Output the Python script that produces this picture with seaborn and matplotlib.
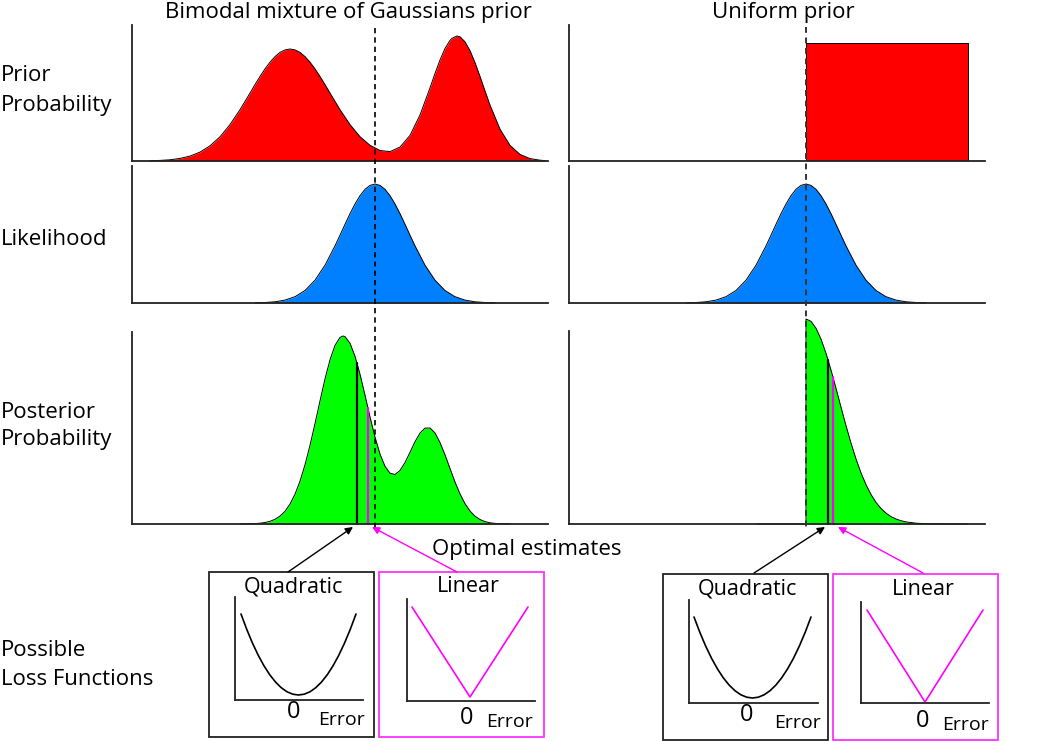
import matplotlib
matplotlib.use('Agg')
import matplotlib.pyplot as plt
from matplotlib.patches import Rectangle
import numpy as np
import seaborn as sns

sns.set_style('white')
plt.rcParams['font.family'] = ['Open Sans', 'DejaVu Sans']

# x = Pixelspalte im Original, y = Hoehe ueber der Grundlinie
prior_bimodal_x = [150, 160, 170, 180, 190, 200, 210, 220, 230, 240, 250, 255, 260, 265, 270, 275, 280, 285,
                   290, 295, 300, 305, 310, 315, 320, 325, 330, 340, 350, 360, 370, 380, 390, 400, 410, 420,
                   430, 435, 440, 445, 450, 452, 457, 460, 465, 470, 475, 480, 485, 490, 500, 510, 520, 530,
                   540, 545]
prior_bimodal_y = [0.2, 0.6, 1.2, 2.6, 4.9, 8.9, 15.2, 24.2, 36.4, 51.3, 67.9, 76.4, 84.5, 92.1, 98.8, 104.4, 108.6, 111.1,
                   112.0, 111.1, 108.6, 104.4, 98.8, 92.1, 84.5, 76.4, 67.9, 51.3, 36.4, 24.3, 15.7, 10.5, 9.4, 13.9, 25.6, 46.0,
                   73.1, 87.5, 101.0, 112.5, 120.6, 122.7, 125.0, 124.2, 119.2, 110.3, 98.4, 84.5, 70.0, 55.9, 31.8, 15.6, 6.6, 2.4,
                   0.8, 0.4]

prior_uniform_x = [806, 968]
prior_uniform_h = 118

lik_center_left = 375
lik_center_right = 806
lik_offsets = [-120, -110, -100, -90, -80, -70, -60, -50, -40, -35, -30, -25, -20, -15, -10, -5, 0,
               5, 10, 15, 20, 25, 30, 35, 40, 50, 60, 70, 80, 90, 100, 110, 120]
lik_heights = [0.2, 0.5, 1.2, 2.9, 6.3, 12.5, 22.8, 37.8, 57.1, 67.8, 78.7, 89.3, 99.0, 107.3, 113.7, 117.6, 119.0,
               117.6, 113.7, 107.3, 99.0, 89.3, 78.7, 67.8, 57.1, 37.8, 22.8, 12.5, 6.3, 2.9, 1.2, 0.5, 0.2]

post_left_x = [240, 250, 255, 260, 265, 270, 275, 280, 285, 290, 295, 300, 305, 310, 315, 320, 325, 330,
               335, 340, 343, 345, 350, 355, 360, 365, 370, 375, 380, 385, 390, 395, 400, 405, 410, 415,
               420, 425, 430, 435, 440, 445, 450, 455, 460, 465, 470, 475, 480, 485, 490, 495, 500, 510]
post_left_y = [0.05, 0.2, 0.4, 0.8, 1.5, 2.7, 4.7, 7.9, 12.7, 19.9, 29.8, 42.8, 59.2, 78.7, 100.4, 123.1, 145.1, 164.2,
               178.6, 186.6, 188.0, 187.4, 180.8, 167.7, 149.7, 128.8, 107.0, 86.9, 69.9, 57.7, 50.8, 49.5, 53.5, 61.4,
               71.7, 82.3, 90.9, 95.9, 96.0, 91.0, 81.5, 69.2, 55.5, 42.0, 30.1, 20.3, 13.0, 7.8, 4.5, 2.4, 1.2,
               0.6, 0.3, 0.1]

post_right_x = [757, 806, 806, 811, 816, 821, 826, 831, 836, 841, 846, 851, 856, 861, 866, 871, 876, 881,
                886, 891, 896, 901, 906, 916, 926, 946, 968]
post_right_y = [0, 0, 205, 202.7, 195.8, 184.9, 170.6, 153.9, 135.6, 116.8, 98.3, 80.9, 65.0, 51.1, 39.3, 29.5,
                21.6, 15.5, 10.9, 7.4, 5.0, 3.3, 2.1, 0.8, 0.3, 0.05, 0]

# Optimale Schaetzer: [quadratisch, linear]
est_left_x = [357, 368]
est_left_h = [161, 116]
est_right_x = [828, 833]
est_right_h = [164, 147]

# Verlustfunktionen
err_quad = [-1.0, -0.9, -0.8, -0.7, -0.6, -0.5, -0.4, -0.3, -0.2, -0.1, 0.0,
            0.1, 0.2, 0.3, 0.4, 0.5, 0.6, 0.7, 0.8, 0.9, 1.0]
loss_quad = [1.00, 0.81, 0.64, 0.49, 0.36, 0.25, 0.16, 0.09, 0.04, 0.01, 0.00,
             0.01, 0.04, 0.09, 0.16, 0.25, 0.36, 0.49, 0.64, 0.81, 1.00]
err_lin = [-1.0, 0.0, 1.0]
loss_lin = [1.0, 0.0, 1.0]

RED = '#ff0000'
BLUE = '#0080ff'
GREEN = '#00ff00'
MAG = '#ff00ff'
MAG_BOX = '#ff33ff'

W, H = 1050, 741
fig = plt.figure(figsize=(W / 100, H / 100), dpi=100)


def px_axes(x0, y0, x1, y1):
    ax = fig.add_axes([x0 / W, 1 - y1 / H, (x1 - x0) / W, (y1 - y0) / H])
    ax.patch.set_alpha(0)
    return ax


def panel(x0, y0, x1, y1):
    ax = px_axes(x0, y0, x1, y1)
    ax.set_xlim(x0, x1)
    ax.set_ylim(0, y1 - y0)
    sns.despine(ax=ax)
    ax.set_xticks([])
    ax.set_yticks([])
    for s in ['left', 'bottom']:
        ax.spines[s].set_linewidth(1.3)
        ax.spines[s].set_color('#222222')
    return ax


def density(ax, x, y, color):
    ax.fill_between(x, y, color=color, lw=0, clip_on=False)
    sns.lineplot(x=x, y=y, ax=ax, color='black', lw=0.7, estimator=None, sort=False, clip_on=False)


def estimates(ax, xs, hs):
    for x, h, c in zip(xs, hs, ['black', MAG]):
        ax.plot([x, x], [0, h], color=c, lw=1.6, clip_on=False)


# --- linke Spalte ---
ax = panel(132, 25, 548, 161)
density(ax, prior_bimodal_x, prior_bimodal_y, RED)

ax = panel(132, 166, 548, 303)
density(ax, [lik_center_left + o for o in lik_offsets], lik_heights, BLUE)

ax = panel(132, 332, 548, 524)
density(ax, post_left_x, post_left_y, GREEN)
estimates(ax, est_left_x, est_left_h)

# --- rechte Spalte ---
ax = panel(569, 25, 985, 161)
ax.fill_between(prior_uniform_x, [prior_uniform_h] * 2, color=RED, lw=0)
ux = [prior_uniform_x[0], prior_uniform_x[0], prior_uniform_x[1], prior_uniform_x[1]]
uy = [0, prior_uniform_h, prior_uniform_h, 0]
sns.lineplot(x=ux, y=uy, ax=ax, color='black', lw=0.7, estimator=None, sort=False)

ax = panel(569, 166, 985, 303)
density(ax, [lik_center_right + o for o in lik_offsets], lik_heights, BLUE)

ax = panel(569, 331, 985, 524)
density(ax, post_right_x, post_right_y, GREEN)
estimates(ax, est_right_x, est_right_h)

# --- Overlay in Pixelkoordinaten ---
ov = px_axes(0, 0, W, H)
ov.set_xlim(0, W)
ov.set_ylim(H, 0)
ov.axis('off')

ov.plot([lik_center_left] * 2, [28, 530], color='black', lw=1.2, dashes=(3.2, 2.4))
ov.plot([lik_center_right] * 2, [27, 530], color='#333333', lw=1.4, dashes=(3.0, 2.4))

txt = dict(va='baseline', color='black')
ov.text(348, 18, 'Bimodal mixture of Gaussians prior', ha='center', fontsize=16, **txt)
ov.text(783, 18, 'Uniform prior', ha='center', fontsize=16, **txt)
ov.text(1, 81, 'Prior', ha='left', fontsize=16, **txt)
ov.text(1, 111, 'Probability', ha='left', fontsize=16, **txt)
ov.text(1, 245, 'Likelihood', ha='left', fontsize=16, **txt)
ov.text(1, 418, 'Posterior', ha='left', fontsize=16, **txt)
ov.text(1, 445, 'Probability', ha='left', fontsize=16, **txt)
ov.text(1, 656, 'Possible', ha='left', fontsize=16, **txt)
ov.text(1, 685, 'Loss Functions', ha='left', fontsize=16, **txt)
ov.text(527, 555, 'Optimal estimates', ha='center', fontsize=16, **txt)

# Pfeile von den Kaestchen zu den Schaetzern
arrows = [((288, 572), (est_left_x[0] - 4, 527), 'black'),
          ((457, 572), (est_left_x[1] + 4, 527), MAG),
          ((754, 573), (est_right_x[0] - 3, 527), 'black'),
          ((923, 573), (est_right_x[1] + 5, 527), MAG)]
for start, end, c in arrows:
    ov.annotate('', xy=end, xytext=start,
                arrowprops=dict(arrowstyle='-|>', color=c, lw=1.0, mutation_scale=11,
                                shrinkA=0, shrinkB=0))


def loss_box(box, title, title_xy, inner, curve, err, loss, color, edge, zero_xy, error_xy):
    bx0, by0, bx1, by1 = box
    ov.add_patch(Rectangle((bx0, by0), bx1 - bx0, by1 - by0, fill=False, ec=edge, lw=1.3))
    ov.text(title_xy[0], title_xy[1], title, ha='center', fontsize=15.5, **txt)
    ov.text(zero_xy[0], zero_xy[1], '0', ha='center', fontsize=17, **txt)
    ov.text(error_xy[0], error_xy[1], 'Error', ha='center', fontsize=14, **txt)
    ax = px_axes(*inner)
    x0, y0, x1, y1 = inner
    lx, rx, zy, oy = curve
    sx = (rx - lx) / 2
    cx = (lx + rx) / 2
    sy = zy - oy
    ax.set_xlim((x0 - cx) / sx, (x1 - cx) / sx)
    ax.set_ylim((zy - y1) / sy, (zy - y0) / sy)
    sns.despine(ax=ax)
    ax.set_xticks([])
    ax.set_yticks([])
    for s in ['left', 'bottom']:
        ax.spines[s].set_linewidth(1.3)
        ax.spines[s].set_color('#222222')
    sns.lineplot(x=err, y=loss, ax=ax, color=color, lw=1.2, estimator=None, sort=False)


loss_box((209, 572, 374, 737), 'Quadratic', (293, 592), (235, 597, 363, 700), (241, 356, 695, 614),
         err_quad, loss_quad, 'black', '#222222', (294, 718), (342, 725))
loss_box((379, 572, 544, 737), 'Linear', (468, 592), (407, 599, 535, 701), (412, 528, 697, 607),
         err_lin, loss_lin, MAG, MAG_BOX, (467, 724), (510, 727))
loss_box((663, 574, 828, 740), 'Quadratic', (747, 595), (689, 600, 818, 703), (694, 811, 698, 617),
         err_quad, loss_quad, 'black', '#222222', (747, 721), (797, 728))
loss_box((833, 574, 998, 740), 'Linear', (923, 595), (861, 602, 989, 703), (867, 983, 702, 610),
         err_lin, loss_lin, MAG, MAG_BOX, (923, 727), (965, 730))

fig.savefig('out.png', dpi=100)
